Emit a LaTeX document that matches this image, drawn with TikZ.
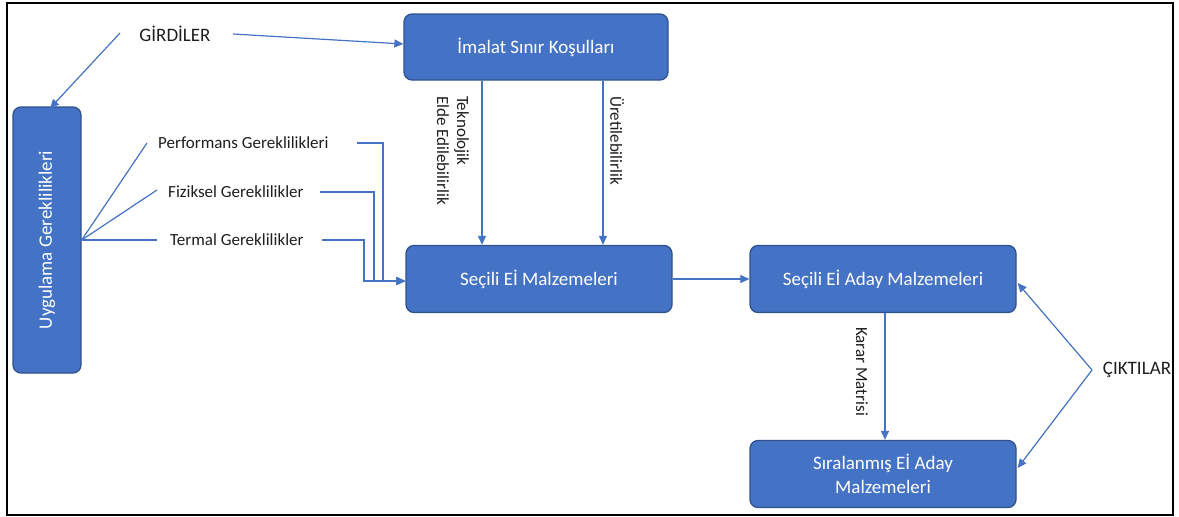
\documentclass[tikz,border=0pt]{standalone}
\usepackage{fontspec}
\setmainfont{Carlito}
\usetikzlibrary{arrows.meta,calc}
\definecolor{boxfill}{HTML}{4472C4}
\definecolor{boxline}{HTML}{2F528F}
\definecolor{conn}{HTML}{4472C4}
\definecolor{txt}{HTML}{1E1E1E}
\begin{document}
\begin{tikzpicture}[x=1pt,y=-1pt,
  box/.style={draw=boxline, line width=1.3pt, fill=boxfill, rounded corners=8pt, text=white,
    font=\fontsize{19}{24}\selectfont, align=center, inner sep=0pt},
  lbl/.style={text=txt, font=\fontsize{17}{20}\selectfont, inner sep=0pt},
  big/.style={text=txt, font=\fontsize{19}{22}\selectfont, inner sep=0pt},
  ln/.style={draw=conn, line width=1.2pt},
  arr/.style={ln, -{Triangle[length=9pt,width=8pt]}}]
\useasboundingbox (0,0) rectangle (1179,517);
\draw[line width=1.6pt] (7,3) rectangle (1173,515);
% boxes
\node[box, minimum width=264, minimum height=66] (imalat) at (536,47) {İmalat Sınır Koşulları};
\node[box, minimum width=68, minimum height=266] (uyg) at (47,240) {\rotatebox{90}{Uygulama Gereklilikleri}};
\node[box, minimum width=266, minimum height=67] (sel) at (539,279) {Seçili Eİ Malzemeleri};
\node[box, minimum width=266, minimum height=67] (aday) at (883,279) {Seçili Eİ Aday Malzemeleri};
\node[box, minimum width=266, minimum height=67] (sira) at (883,474) {Sıralanmış Eİ Aday\\Malzemeleri};
% texts
\node[big] (girdi) at (175,34) {GİRDİLER};
\node[big] (cikti) at (1137,370) {ÇIKTILAR};
\node[lbl, anchor=west] (perf) at (158,143) {Performans Gereklilikleri};
\node[lbl, anchor=west] (fiz) at (168,192) {Fiziksel Gereklilikler};
\node[lbl, anchor=west] (term) at (170,240) {Termal Gereklilikler};
\node[lbl, anchor=north, align=left] (tek) at (451,96) {\rotatebox{-90}{\begin{tabular}{@{}l@{}}Teknolojik\\Elde Edilebilirlik\end{tabular}}};
\node[lbl, anchor=north] (uret) at (617,96) {\rotatebox{-90}{Üretilebilirlik}};
\node[lbl, anchor=north] (karar) at (862,327) {\rotatebox{-90}{Karar Matrisi}};
% coordinates
\coordinate (g1) at (120,33);
\coordinate (g2) at (233,34);
\coordinate (p0) at (147,143);
\coordinate (f0) at (157,190);
\coordinate (t0) at (157,240);
\coordinate (p1) at (357,143);
\coordinate (f1) at (320,192);
\coordinate (t1) at (322,240);
\coordinate (c0) at (1092,370);
% connectors
\draw[arr] (g1) -- ($(uyg.north)+(3,2)$);
\draw[arr] (g2) -- ($(imalat.west)+(0,-3)$);
\draw[ln] (uyg.east) -- (p0);
\draw[ln] (uyg.east) -- (f0);
\draw[ln] (uyg.east) -- (t0);
\draw[arr] (p1) -| (383,281) -- (sel.west |- 0,281);
\draw[arr] (f1) -| (374,281) -- (sel.west |- 0,281);
\draw[arr] (t1) -| (364,281) -- (sel.west |- 0,281);
\draw[arr] (imalat.south -| 482,0) -- (sel.north -| 482,0);
\draw[arr] (imalat.south -| 603,0) -- (sel.north -| 603,0);
\draw[arr] (sel.east) -- (aday.west);
\draw[arr] (aday.south -| 885,0) -- (sira.north -| 885,0);
\draw[arr] (c0) -- ($(aday.east)+(1,4)$);
\draw[arr] (c0) -- ($(sira.east)+(1,-6)$);
\end{tikzpicture}
\end{document}
